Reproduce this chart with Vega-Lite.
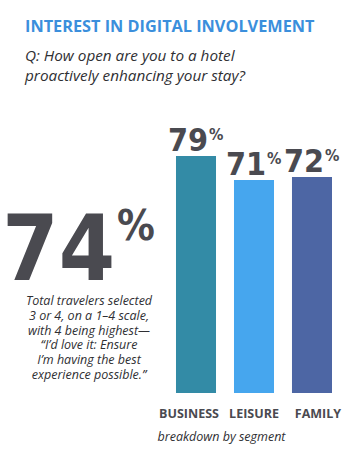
{
  "$schema": "https://vega.github.io/schema/vega-lite/v6.json",
  "background": "white",
  "autosize": {"type": "none"},
  "padding": {"left": 0, "top": 93, "right": 0, "bottom": 81},
  "width": 360,
  "height": 300,
  "title": {
    "text": "INTEREST IN DIGITAL INVOLVEMENT",
    "subtitle": ["Q: How open are you to a hotel", "proactively enhancing your stay?"],
    "anchor": "start",
    "frame": "group",
    "dx": 25,
    "font": "Open Sans",
    "fontSize": 16.3,
    "fontWeight": "bold",
    "color": "#3b8fdc",
    "subtitleFont": "Open Sans",
    "subtitleFontStyle": "italic",
    "subtitleFontSize": 15.3,
    "subtitleColor": "#2f2f33",
    "subtitleLineHeight": 19.5,
    "subtitlePadding": 14,
    "offset": 9
  },
  "datasets": {
    "segments": [
      {"segment": "BUSINESS", "value": 79},
      {"segment": "LEISURE", "value": 71},
      {"segment": "FAMILY", "value": 72}
    ],
    "total": [
      {"segment": "TOTAL", "value": 74}
    ]
  },
  "encoding": {
    "x": {
      "field": "segment",
      "type": "nominal",
      "scale": {"domain": ["TOTAL", "BUSINESS", "LEISURE", "FAMILY"], "range": [118, 332], "paddingInner": 0.31, "paddingOuter": 0},
      "title": "breakdown by segment",
      "axis": {
        "values": ["BUSINESS", "LEISURE", "FAMILY"],
        "labelAngle": 0,
        "domain": false,
        "ticks": false,
        "labelFont": "Open Sans",
        "labelFontWeight": "bold",
        "labelFontSize": 12.5,
        "labelColor": "#4a4a50",
        "labelPadding": 14,
        "labelOffset": {"expr": "datum.value == 'BUSINESS' ? -7 : datum.value == 'FAMILY' ? 6 : 0"},
        "titleFont": "Open Sans",
        "titleFontStyle": "italic",
        "titleFontWeight": "normal",
        "titleFontSize": 12.5,
        "titleColor": "#2f2f33",
        "titleAlign": "left",
        "titleAnchor": "start",
        "titleX": 157,
        "titlePadding": 11
      }
    }
  },
  "layer": [
    {
      "data": {"name": "segments"},
      "mark": {"type": "bar"},
      "encoding": {
        "y": {"field": "value", "type": "quantitative", "scale": {"domain": [0, 100]}, "axis": null},
        "color": {
          "field": "segment",
          "type": "nominal",
          "scale": {"domain": ["BUSINESS", "LEISURE", "FAMILY"], "range": ["#338ba6", "#46a6ee", "#4d66a4"]},
          "legend": null
        }
      }
    },
    {
      "data": {"name": "segments"},
      "mark": {"type": "text", "font": "DejaVu Sans Condensed", "fontWeight": "bold", "fontSize": 32, "align": "right", "baseline": "alphabetic", "dx": 12, "dy": -5, "color": "#4a4a50"},
      "encoding": {
        "y": {"field": "value", "type": "quantitative"},
        "text": {"field": "value", "type": "quantitative"}
      }
    },
    {
      "data": {"name": "segments"},
      "mark": {"type": "text", "font": "DejaVu Sans Condensed", "fontWeight": "bold", "fontSize": 16, "align": "left", "baseline": "alphabetic", "dx": 13, "dy": -16, "color": "#4a4a50"},
      "encoding": {
        "y": {"field": "value", "type": "quantitative"},
        "text": {"value": "%"}
      }
    },
    {
      "data": {"name": "total"},
      "mark": {"type": "text", "font": "DejaVu Sans Condensed", "fontWeight": "bold", "fontSize": 90, "align": "right", "baseline": "alphabetic", "dx": -23, "dy": 37, "color": "#4a4a50"},
      "encoding": {"text": {"field": "value", "type": "quantitative"}}
    },
    {
      "data": {"name": "total"},
      "mark": {"type": "text", "font": "DejaVu Sans Condensed", "fontWeight": "bold", "fontSize": 42, "align": "left", "baseline": "alphabetic", "dx": -21, "dy": -3, "color": "#4a4a50"},
      "encoding": {"text": {"value": "%"}}
    },
    {
      "data": {"name": "total"},
      "mark": {"type": "text", "font": "Open Sans", "fontStyle": "italic", "fontSize": 12.5, "lineHeight": 14.8, "align": "center", "baseline": "alphabetic", "dx": -49, "dy": 62, "color": "#2f2f33"},
      "encoding": {"text": {"value": ["Total travelers selected", "3 or 4, on a 1–4 scale,", "with 4 being highest—", "“I’d love it: Ensure", "I’m having the best", "experience possible.”"]}}
    }
  ],
  "config": {"view": {"stroke": null}}
}
